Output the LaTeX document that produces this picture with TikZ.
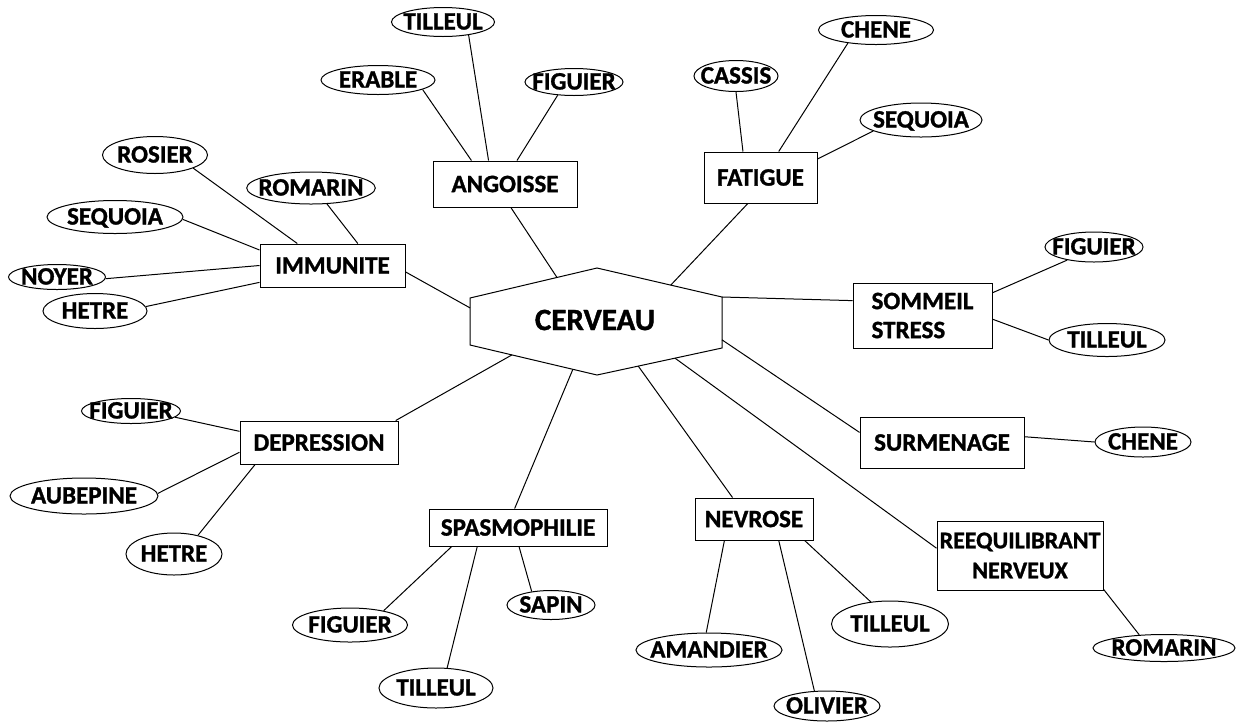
\documentclass[tikz,border=0pt]{standalone}
\usepackage{fontspec}
\setmainfont{Carlito}[BoldFeatures={FakeBold=1.2}]
\usepackage{tikz}
\usetikzlibrary{shapes.geometric, calc}

\begin{document}
\begin{tikzpicture}[x=1pt, y=-1pt, line width=1pt,
		every node/.style={font=\fontsize{25}{29}\selectfont\bfseries},
		box/.style={draw, rectangle, inner sep=2pt},
		plant/.style={draw, ellipse, inner xsep=-7pt, inner ysep=0pt, text height=15pt, text depth=0pt},
		wh/.style 2 args={minimum width=#1pt, minimum height=#2pt}]
		\useasboundingbox (0,0) rectangle (1238,724);
		
		% Centre
		\node[font=\fontsize{31}{36}\selectfont\bfseries] (cerveau) at (595,320) {CERVEAU};
		\coordinate (h1) at (470,298);
		\coordinate (h2) at (597,268);
		\coordinate (h3) at (722,297);
		\coordinate (h4) at (722,348);
		\coordinate (h5) at (597,375);
		\coordinate (h6) at (470,345);
		\draw (h1) -- (h2) -- (h3) -- (h4) -- (h5) -- (h6) -- cycle;
		
		% Themes
		\node[box, wh={144}{46}] (angoisse) at (505,184) {ANGOISSE};
		\node[box, wh={113}{51}] (fatigue) at (760.5,177.5) {FATIGUE};
		\node[box, wh={145}{43}] (immunite) at (332.5,265.5) {IMMUNITE};
		\node[box, wh={139}{65}, align=left] (sommeil) at (922.5,315.5) {SOMMEIL\\STRESS};
		\node[box, wh={164}{51}] (surmenage) at (942,442.5) {SURMENAGE};
		\node[box, wh={166}{69}, align=center, font=\fontsize{24}{30}\selectfont\bfseries] (reequilibrant) at (1020,555.5) {REEQUILIBRANT\\NERVEUX};
		\node[box, wh={118}{42}] (nevrose) at (754,519) {NEVROSE};
		\node[box, wh={178}{37}] (spasmophilie) at (518,527.5) {SPASMOPHILIE};
		\node[box, wh={158}{43}] (depression) at (319,442.5) {DEPRESSION};
		
		% Plants
		\node[plant, wh={103}{29}] (tilleulA) at (443,22) {TILLEUL};
		\node[plant, wh={114}{29}] (erable) at (378,80) {ERABLE};
		\node[plant, wh={97}{27}] (figuierA) at (574,82) {FIGUIER};
		\node[plant, wh={105}{37}] (rosier) at (155,155) {ROSIER};
		\node[plant, wh={125}{32}] (romarinA) at (311,188) {ROMARIN};
		\node[plant, wh={136}{33}] (sequoiaA) at (115,217) {SEQUOIA};
		\node[plant, wh={97}{25}] (noyer) at (57,277) {NOYER};
		\node[plant, wh={104}{35}] (hetreA) at (95,311) {HETRE};
		\node[plant, wh={115}{29}] (cheneA) at (876,30) {CHENE};
		\node[plant, wh={84}{31}] (cassis) at (736,76) {CASSIS};
		\node[plant, wh={122}{34}] (sequoiaB) at (921,120) {SEQUOIA};
		\node[plant, wh={96}{30}] (figuierB) at (1094,247) {FIGUIER};
		\node[plant, wh={116}{33}] (tilleulB) at (1107,340) {TILLEUL};
		\node[plant, wh={96}{30}] (cheneB) at (1143,442) {CHENE};
		\node[plant, wh={142}{27}] (romarinB) at (1164,648) {ROMARIN};
		\node[plant, wh={139}{34}] (amandier) at (709,650) {AMANDIER};
		\node[plant, wh={106}{30}] (olivier) at (827,706) {OLIVIER};
		\node[plant, wh={117}{46}] (tilleulD) at (890,624) {TILLEUL};
		\node[plant, wh={115}{34}] (figuierD) at (350,625) {FIGUIER};
		\node[plant, wh={114}{40}] (tilleulC) at (436,688) {TILLEUL};
		\node[plant, wh={88}{29}] (sapin) at (551,605) {SAPIN};
		\node[plant, wh={99}{25}] (figuierC) at (131,411) {FIGUIER};
		\node[plant, wh={148}{36}] (aubepine) at (84,496) {AUBEPINE};
		\node[plant, wh={96}{42}] (hetreB) at (174,554) {HETRE};
		
		% Edges to the centre
		\draw (angoisse.-76) -- ($(h1)!0.685!(h2)$);
		\draw (fatigue.-116) -- ($(h2)!0.59!(h3)$);
		\draw (immunite.-5) -- ($(h6)!0.79!(h1)$);
		\draw (sommeil.168) -- (h3);
		\draw (surmenage.173) -- ($(h3)!0.84!(h4)$);
		\draw (reequilibrant.175) -- ($(h4)!0.376!(h5)$);
		\draw (nevrose.135) -- ($(h4)!0.67!(h5)$);
		\draw (spasmophilie.100) -- ($(h5)!0.19!(h6)$);
		\draw (depression.16) -- ($(h5)!0.67!(h6)$);
		
		% Edges to the plants
		\draw (angoisse.125) -- (tilleulA.-27);
		\draw (angoisse.145) -- (erable.-12);
		\draw (angoisse.63) -- (figuierA.-141);
		\draw (immunite.148) -- (rosier.-19);
		\draw (immunite.41) -- (romarinA.-45);
		\draw (immunite.168) -- (sequoiaA.-2.5);
		\draw (immunite.180) -- (noyer.-2);
		\draw (immunite.193) -- (hetreA.5.5);
		\draw (fatigue.124.5) -- (cassis.-90);
		\draw (fatigue.55.5) -- (cheneA.-155);
		\draw (fatigue.18) -- (sequoiaB.-167);
		\draw (sommeil.18) -- (figuierB.-154);
		\draw (sommeil.-3) -- (tilleulB.180);
		\draw (surmenage.4.5) -- (cheneB.180);
		\draw (reequilibrant.-22) -- (romarinB.152.5);
		\draw (nevrose.-144) -- (amandier.99.5);
		\draw (nevrose.-41) -- (olivier.130.6);
		\draw (nevrose.-23) -- (tilleulD.131);
		\draw (spasmophilie.-164) -- (figuierD.23);
		\draw (spasmophilie.-155) -- (tilleulC.61);
		\draw (spasmophilie.-87) -- (sapin.145);
		\draw (depression.172.6) -- (figuierC.-8);
		\draw (depression.187) -- (aubepine.2.3);
		\draw (depression.-161) -- (hetreB.38.7);
	\end{tikzpicture}
\end{document}
